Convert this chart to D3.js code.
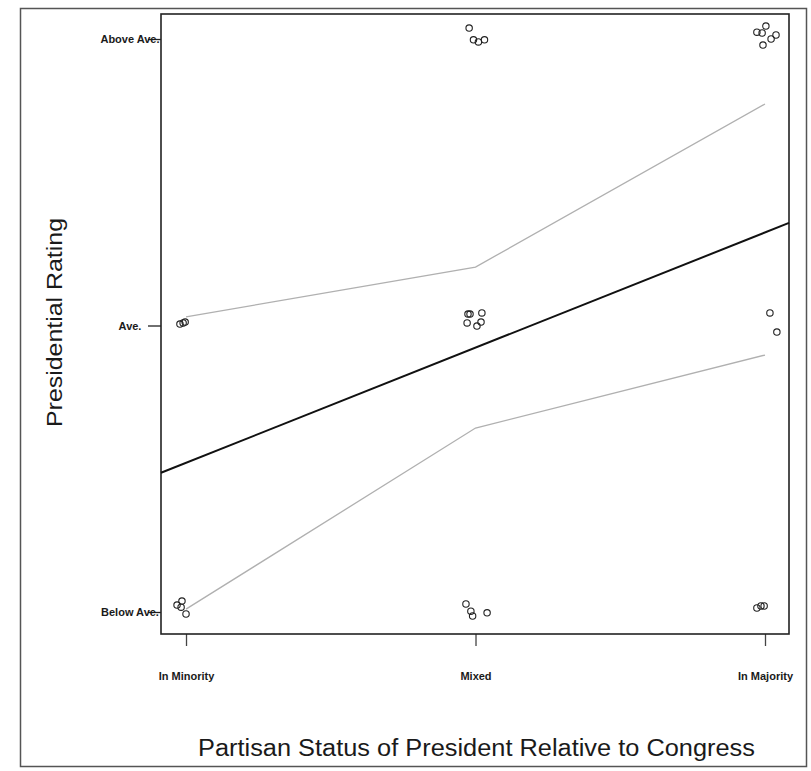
<!DOCTYPE html>
<html>
<head>
<meta charset="utf-8">
<script src="https://cdn.jsdelivr.net/npm/d3@7"></script>
<style>
  body { margin: 0; background: #fff; }
  svg text { font-family: Arial, "Liberation Sans", Helvetica, sans-serif; fill: #1a1a1a; }
</style>
</head>
<body>
<div id="d3-container"></div>
<script>
/**
 * DATA
 * */
const statusLabels = ["In Minority", "Mixed", "In Majority"];
const ratingLabels = ["Below Ave.", "Ave.", "Above Ave."];

// jittered observations, [status, rating]
const points = [
  // in minority
  [0.979, 2.005], [0.990, 2.009], [0.997, 2.012],
  [0.969, 1.024], [0.986, 1.038], [0.983, 1.017], [1.000, 0.993],
  // mixed
  [1.978, 3.038], [1.993, 2.997], [2.010, 2.990], [2.031, 2.997],
  [1.971, 2.009], [1.974, 2.040], [1.981, 2.040], [2.005, 1.998], [2.019, 2.012], [2.022, 2.044],
  [1.967, 1.028], [1.984, 1.003], [1.990, 0.986], [2.040, 0.997],
  // in majority
  [2.972, 3.024], [2.990, 3.021], [3.003, 3.045], [3.038, 3.014], [3.021, 3.000], [2.993, 2.979],
  [3.017, 2.044], [3.041, 1.977],
  [2.972, 1.014], [2.986, 1.021], [2.997, 1.021]
];

// fitted line at the plot edges
const fitX = [0.9136, 3.0829];
const fitY = [1.486, 2.358];

// confidence band at each status
const bandX = [1, 2, 3];
const upperBand = [2.030, 2.204, 2.773];
const lowerBand = [1.010, 1.642, 1.897];

/**
 * LAYOUT
 * */
const width = 811,
  height = 771,
  margin = { top: 14, bottom: 137, left: 161, right: 22 };

const svg = d3.select("#d3-container")
  .append("svg")
  .attr("width", width)
  .attr("height", height);

const x = d3.scaleLinear()
  .domain([0.9136, 3.0829])
  .range([margin.left, width - margin.right]);

const y = d3.scaleLinear()
  .domain([0.9232, 3.0873])
  .range([height - margin.bottom, margin.top]);

// outer frame
svg.append("rect")
  .attr("x", 20.5).attr("y", 8.5)
  .attr("width", 786).attr("height", 758)
  .attr("fill", "none")
  .attr("stroke", "#555")
  .attr("stroke-width", 1.5);

// + AXES
const yAxis = svg.append("g")
  .attr("transform", `translate(${margin.left},0)`)
  .call(d3.axisLeft(y)
    .tickValues([1, 2, 3])
    .tickFormat(d => ratingLabels[d - 1])
    .tickSize(13));
yAxis.select(".domain").remove();
yAxis.selectAll(".tick line").attr("stroke", "#222").attr("stroke-width", 1.3);
yAxis.selectAll(".tick text")
  .attr("x", -31)
  .attr("text-anchor", "middle")
  .style("font-size", "11px")
  .style("font-weight", "bold")
  .style("font-family", "Arial, 'Liberation Sans', sans-serif")
  .attr("fill", "#222");

const xAxis = svg.append("g")
  .attr("transform", `translate(0,${height - margin.bottom})`)
  .call(d3.axisBottom(x)
    .tickValues([1, 2, 3])
    .tickFormat(d => statusLabels[d - 1])
    .tickSize(12));
xAxis.select(".domain").remove();
xAxis.selectAll(".tick line").attr("stroke", "#444").attr("stroke-width", 1.3);
xAxis.selectAll(".tick text")
  .attr("y", 38)
  .style("font-size", "11px")
  .style("font-weight", "bold")
  .style("font-family", "Arial, 'Liberation Sans', sans-serif")
  .attr("fill", "#222");

// plot frame
svg.append("rect")
  .attr("x", margin.left).attr("y", margin.top)
  .attr("width", width - margin.left - margin.right)
  .attr("height", height - margin.top - margin.bottom)
  .attr("fill", "none")
  .attr("stroke", "#222")
  .attr("stroke-width", 1.6);

// + BANDS
const line = d3.line().x(d => x(d[0])).y(d => y(d[1]));

[upperBand, lowerBand].forEach(band => {
  svg.append("path")
    .attr("d", line(bandX.map((v, i) => [v, band[i]])))
    .attr("fill", "none")
    .attr("stroke", "#b0b0b0")
    .attr("stroke-width", 1.3);
});

// + FIT LINE
svg.append("path")
  .attr("d", line(fitX.map((v, i) => [v, fitY[i]])))
  .attr("fill", "none")
  .attr("stroke", "#111")
  .attr("stroke-width", 2);

// + POINTS
svg.selectAll("circle.pt")
  .data(points)
  .join("circle")
  .attr("class", "pt")
  .attr("cx", d => x(d[0]))
  .attr("cy", d => y(d[1]))
  .attr("r", 3.2)
  .attr("fill", "none")
  .attr("stroke", "#222")
  .attr("stroke-width", 1.1);

// + TITLES
svg.append("text")
  .attr("x", 476.5)
  .attr("y", 756)
  .attr("text-anchor", "middle")
  .attr("textLength", 557)
  .attr("lengthAdjust", "spacingAndGlyphs")
  .style("font-size", "23px")
  .text("Partisan Status of President Relative to Congress");

svg.append("text")
  .attr("transform", "translate(62,322.5) rotate(-90)")
  .attr("text-anchor", "middle")
  .attr("textLength", 209)
  .attr("lengthAdjust", "spacingAndGlyphs")
  .style("font-size", "22px")
  .text("Presidential Rating");
</script>
</body>
</html>
